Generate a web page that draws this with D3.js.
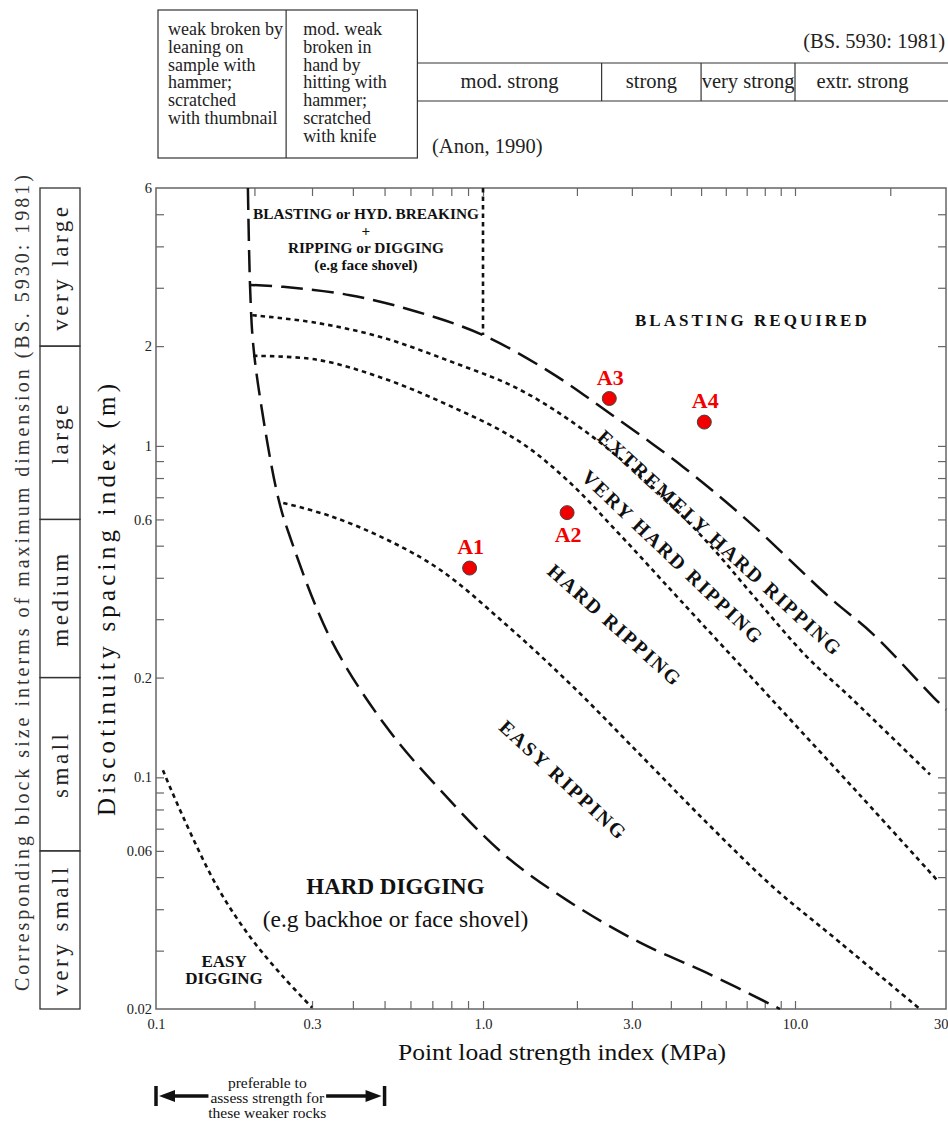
<!DOCTYPE html>
<html>
<head>
<meta charset="utf-8">
<script src="https://cdn.jsdelivr.net/npm/d3@7"></script>
<style>
  body { margin: 0; background: #fff; }
  svg { display: block; }
</style>
</head>
<body>
<div id="chart"></div>
<script>
/* CONSTANTS AND GLOBALS */
const width = 948, height = 1123;
const serif = "Liberation Serif, Times New Roman, serif";

/* DATA */
// x axis: point load strength index (MPa)
const xTicks = [0.2, 0.3, 0.4, 0.5, 0.6, 0.7, 0.8, 0.9, 1, 2, 3, 4, 5, 6, 7, 8, 9, 10, 20];
const xLabelValues = [0.1, 0.3, 1, 3, 10, 30];
const xLabelText = ["0.1", "0.3", "1.0", "3.0", "10.0", "30"];

// y axis: discontinuity spacing index (m)
const yTicks = [6, 5, 4, 3, 2, 1, 0.9, 0.8, 0.7, 0.6, 0.5, 0.4, 0.3, 0.2, 0.1,
                0.09, 0.08, 0.07, 0.06, 0.05, 0.04, 0.03, 0.02];
const yLabelValues = [6, 2, 1, 0.6, 0.2, 0.1, 0.06, 0.02];

// block size classes (BS 5930: 1981)
const blockNames = ["very large", "large", "medium", "small", "very small"];
const blockBounds = [6, 2, 0.6, 0.2, 0.06, 0.02];

// strength classes on top
const anonBounds = [0.1, 0.25, 0.63];
const weakText = ["weak broken by", "leaning on", "sample with", "hammer;", "scratched", "with thumbnail"];
const modWeakText = ["mod. weak", "broken in", "hand by", "hitting with", "hammer;", "scratched", "with knife"];
const bsNames = ["mod. strong", "strong", "very strong", "extr. strong"];
const bsBounds = [0.63, 2.4, 5, 10, 30];

// boundary curves [strength, spacing]
const diggingLine = [[0.191, 6], [0.194, 3.0], [0.198, 2.05], [0.208, 1.40], [0.236, 0.702],
  [0.257, 0.531], [0.343, 0.260], [0.501, 0.144], [0.739, 0.0917], [1.19, 0.0576],
  [1.94, 0.0415], [3.19, 0.0317], [5.22, 0.0257], [8.95, 0.02]];
const blastingLine = [[0.194, 3.06], [0.245, 3.02], [0.392, 2.85], [0.628, 2.54], [1.0, 2.16],
  [1.64, 1.67], [2.50, 1.27], [4.38, 0.864], [7.18, 0.586], [12.9, 0.348], [17.6, 0.271],
  [27.3, 0.175], [30, 0.160]];
const extremeLine = [[0.197, 2.48], [0.311, 2.35], [0.495, 2.12], [0.793, 1.80], [1.29, 1.49],
  [2.09, 1.12], [3.43, 0.763], [5.15, 0.521], [7.55, 0.343], [10.9, 0.231], [14.9, 0.175],
  [26.7, 0.102]];
const veryHardLine = [[0.198, 1.87], [0.311, 1.82], [0.495, 1.60], [0.793, 1.32], [1.29, 1.04],
  [1.86, 0.789], [2.75, 0.539], [4.28, 0.343], [8.32, 0.174], [16.0, 0.0886], [28.1, 0.049]];
const hardLine = [[0.245, 0.673], [0.340, 0.615], [0.495, 0.528], [0.739, 0.423], [1.19, 0.288],
  [1.94, 0.188], [3.19, 0.117], [5.22, 0.0729], [8.50, 0.0467], [13.9, 0.0317], [24.8, 0.02]];
const easyDigLine = [[0.105, 0.105], [0.121, 0.076], [0.154, 0.0467], [0.194, 0.033],
  [0.245, 0.025], [0.30, 0.0202]];
const boxLine = [[1, 6], [1, 2.16]];

// sites
const siteNames = ["A1", "A2", "A3", "A4"];
const siteStrength = [0.91, 1.86, 2.54, 5.12];
const siteSpacing = [0.428, 0.629, 1.39, 1.18];
const siteLabelBelow = [false, true, false, false];

// range where strength is better assessed another way
const weakRange = [0.1, 0.5];

/* SCALES */
const x = d3.scaleLog().domain([0.1, 1, 10, 30]).range([156, 483, 795, 946]);
const y = d3.scaleLog().domain([0.02, 6]).range([1009, 188]);

const svg = d3.select("#chart").append("svg")
  .attr("width", width)
  .attr("height", height)
  .attr("font-family", serif);

svg.append("rect").attr("width", width).attr("height", height).attr("fill", "#fff");

/* TOP STRENGTH TABLE */
const tbl = svg.append("g").attr("fill", "#222").attr("stroke-width", 1.2);

tbl.append("rect")
  .attr("x", x(anonBounds[0]) + 2).attr("y", 10)
  .attr("width", x(anonBounds[2]) - x(anonBounds[0]) - 2).attr("height", 148)
  .attr("fill", "none").attr("stroke", "#333");
tbl.append("line")
  .attr("x1", x(anonBounds[1])).attr("x2", x(anonBounds[1]))
  .attr("y1", 10).attr("y2", 158).attr("stroke", "#333");

tbl.selectAll(".weak").data(weakText).join("text")
  .attr("class", "weak")
  .attr("x", x(anonBounds[0]) + 12)
  .attr("y", (d, i) => 35 + i * 17.8)
  .attr("font-size", 18)
  .text(d => d);
tbl.selectAll(".modweak").data(modWeakText).join("text")
  .attr("class", "modweak")
  .attr("x", x(anonBounds[1]) + 17)
  .attr("y", (d, i) => 35 + i * 17.8)
  .attr("font-size", 18)
  .text(d => d);

[63, 101].forEach(yy => {
  tbl.append("line")
    .attr("x1", x(bsBounds[0])).attr("x2", width)
    .attr("y1", yy).attr("y2", yy).attr("stroke", "#333");
});
tbl.selectAll(".bsdiv").data(bsBounds.slice(1, -1)).join("line")
  .attr("class", "bsdiv")
  .attr("x1", d => x(d)).attr("x2", d => x(d))
  .attr("y1", 63).attr("y2", 101).attr("stroke", "#333");
tbl.selectAll(".bsname").data(bsNames).join("text")
  .attr("class", "bsname")
  .attr("x", (d, i) => (x(bsBounds[i]) + x(bsBounds[i + 1])) / 2 - (i === 3 ? 8 : 0))
  .attr("y", 88)
  .attr("text-anchor", "middle")
  .attr("font-size", 20.5)
  .text(d => d);

tbl.append("text").attr("x", 945).attr("y", 48).attr("text-anchor", "end")
  .attr("font-size", 20.5).text("(BS. 5930: 1981)");
tbl.append("text").attr("x", 432).attr("y", 153)
  .attr("font-size", 20.5).text("(Anon, 1990)");

/* LEFT BLOCK SIZE COLUMN */
const blk = svg.append("g");
blk.selectAll("rect").data(blockNames).join("rect")
  .attr("x", 40).attr("width", 40)
  .attr("y", (d, i) => y(blockBounds[i]))
  .attr("height", (d, i) => y(blockBounds[i + 1]) - y(blockBounds[i]))
  .attr("fill", "none").attr("stroke", "#333").attr("stroke-width", 1.3);
blk.selectAll("text").data(blockNames).join("text")
  .attr("transform", (d, i) => `translate(60,${(y(blockBounds[i]) + y(blockBounds[i + 1])) / 2}) rotate(-90)`)
  .attr("text-anchor", "middle")
  .attr("dy", "0.33em")
  .attr("font-size", 23)
  .attr("letter-spacing", 3.5)
  .attr("fill", "#222")
  .text(d => d);

svg.append("text")
  .attr("transform", "translate(22,583) rotate(-90)")
  .attr("text-anchor", "middle")
  .attr("dy", "0.33em")
  .attr("font-size", 20)
  .attr("textLength", 816)
  .attr("lengthAdjust", "spacing")
  .attr("fill", "#333")
  .text("Corresponding block size interms of maximum dimension (BS. 5930: 1981)");

/* AXES */
const tickColor = "#666";
function styleAxis(g) {
  g.select(".domain").remove();
  g.selectAll(".tick line").attr("stroke", tickColor).attr("stroke-width", 1.2);
}
svg.append("g").attr("transform", `translate(0,${y(0.02)})`)
  .call(d3.axisBottom(x).tickValues(xTicks).tickSize(-8).tickFormat(""))
  .call(styleAxis);
svg.append("g").attr("transform", `translate(0,${y(6)})`)
  .call(d3.axisTop(x).tickValues(xTicks).tickSize(-8).tickFormat(""))
  .call(styleAxis);
svg.append("g").attr("transform", `translate(${x(0.1)},0)`)
  .call(d3.axisLeft(y).tickValues(yTicks.slice(1, -1)).tickSize(-8).tickFormat(""))
  .call(styleAxis);
svg.append("g").attr("transform", `translate(${x(30)},0)`)
  .call(d3.axisRight(y).tickValues(yTicks.slice(1, -1)).tickSize(-8).tickFormat(""))
  .call(styleAxis);

// tick labels
const xLab = svg.append("g").attr("transform", `translate(0,${y(0.02)})`)
  .call(d3.axisBottom(x).tickValues(xLabelValues).tickSize(0).tickPadding(10)
    .tickFormat((d, i) => xLabelText[i]));
xLab.select(".domain").remove();
xLab.attr("font-family", serif);
xLab.selectAll("text").attr("font-size", 14.5).attr("fill", "#222");
xLab.selectAll("text").filter(d => d === 30).attr("text-anchor", "end").attr("dx", 2);

const yLab = svg.append("g").attr("transform", `translate(${x(0.1)},0)`)
  .call(d3.axisLeft(y).tickValues(yLabelValues).tickSize(0).tickPadding(4)
    .tickFormat(d => String(d)));
yLab.select(".domain").remove();
yLab.attr("font-family", serif);
yLab.selectAll("text").attr("font-size", 14.5).attr("fill", "#222");

// frame
svg.append("rect")
  .attr("x", x(0.1)).attr("y", y(6))
  .attr("width", x(30) - x(0.1)).attr("height", y(0.02) - y(6))
  .attr("fill", "none").attr("stroke", tickColor).attr("stroke-width", 1.5);

// axis titles
svg.append("text")
  .attr("x", 562).attr("y", 1060)
  .attr("text-anchor", "middle")
  .attr("font-size", 23.5)
  .attr("textLength", 328)
  .attr("lengthAdjust", "spacingAndGlyphs")
  .attr("fill", "#111")
  .text("Point load strength index (MPa)");
svg.append("text")
  .attr("transform", "translate(107,600) rotate(-90)")
  .attr("text-anchor", "middle")
  .attr("dy", "0.33em")
  .attr("font-size", 25)
  .attr("textLength", 432)
  .attr("lengthAdjust", "spacing")
  .attr("fill", "#111")
  .text("Discotinuity spacing index (m)");

/* BOUNDARY CURVES */
const lineGen = d3.line()
  .x(d => x(d[0]))
  .y(d => y(d[1]))
  .curve(d3.curveCatmullRom.alpha(0.5));

const dashed = [diggingLine, blastingLine];
const dotted = [extremeLine, veryHardLine, hardLine, easyDigLine, boxLine];

svg.append("g").selectAll("path").data(dashed).join("path")
  .attr("d", lineGen)
  .attr("fill", "none")
  .attr("stroke", "#111")
  .attr("stroke-width", 2.5)
  .attr("stroke-dasharray", "22,9");
svg.append("g").selectAll("path").data(dotted).join("path")
  .attr("d", lineGen)
  .attr("fill", "none")
  .attr("stroke", "#111")
  .attr("stroke-width", 2.6)
  .attr("stroke-dasharray", "4.5,4");

/* REGION LABELS */
const lab = svg.append("g").attr("fill", "#111").attr("font-weight", "bold");

const topBox = ["BLASTING or HYD. BREAKING", "+", "RIPPING or DIGGING", "(e.g face shovel)"];
lab.selectAll(".topbox").data(topBox).join("text")
  .attr("class", "topbox")
  .attr("x", x(0.4385))
  .attr("y", (d, i) => 219 + i * 17)
  .attr("text-anchor", "middle")
  .attr("font-size", 15.3)
  .attr("fill", "#111")
  .text(d => d);

lab.append("text")
  .attr("x", x(7.3)).attr("y", y(2.4) + 6)
  .attr("text-anchor", "middle")
  .attr("font-size", 17)
  .attr("letter-spacing", 3)
  .text("BLASTING REQUIRED");

const rotLabel = (text, sx, sy, angle) => lab.append("text")
  .attr("transform", `translate(${x(sx)},${y(sy)}) rotate(${angle})`)
  .attr("text-anchor", "middle")
  .attr("dy", "0.35em")
  .attr("font-size", 20)
  .attr("letter-spacing", 2)
  .text(text);
rotLabel("EXTREMELY HARD RIPPING", 5.75, 0.51, 42.5);
rotLabel("VERY HARD RIPPING", 4.06, 0.462, 43.6);
rotLabel("HARD RIPPING", 2.65, 0.288, 41.7);
rotLabel("EASY RIPPING", 1.81, 0.0982, 42.8);

lab.append("text")
  .attr("x", x(0.54)).attr("y", y(0.047) + 8)
  .attr("text-anchor", "middle")
  .attr("font-size", 23)
  .text("HARD DIGGING");
lab.append("text")
  .attr("x", x(0.54)).attr("y", y(0.0372) + 7)
  .attr("text-anchor", "middle")
  .attr("font-size", 23.5)
  .attr("font-weight", "normal")
  .text("(e.g backhoe or face shovel)");
lab.selectAll(".easydig").data(["EASY", "DIGGING"]).join("text")
  .attr("class", "easydig")
  .attr("x", x(0.1615))
  .attr("y", (d, i) => y(0.026) - 4 + i * 17)
  .attr("text-anchor", "middle")
  .attr("font-size", 17)
  .text(d => d);

/* SITES */
const sites = svg.append("g");
sites.selectAll("circle").data(siteNames).join("circle")
  .attr("cx", (d, i) => x(siteStrength[i]))
  .attr("cy", (d, i) => y(siteSpacing[i]))
  .attr("r", 7)
  .attr("fill", "#f20000")
  .attr("stroke", "#444")
  .attr("stroke-width", 1);
sites.selectAll("text").data(siteNames).join("text")
  .attr("x", (d, i) => x(siteStrength[i]) + 1)
  .attr("y", (d, i) => y(siteSpacing[i]) + (siteLabelBelow[i] ? 29 : -14))
  .attr("text-anchor", "middle")
  .attr("font-size", 22)
  .attr("font-weight", "bold")
  .attr("fill", "#f20000")
  .text(d => d);

/* WEAK ROCK ARROW */
const arr = svg.append("g").attr("fill", "#111");
const ax0 = x(weakRange[0]), ax1 = x(weakRange[1]), ay = 1096;
const amid = (ax0 + ax1) / 2 - 3;
const noteLines = ["preferable to", "assess strength for", "these weaker rocks"];
const notes = arr.selectAll("text").data(noteLines).join("text")
  .attr("x", amid)
  .attr("y", (d, i) => 1088 + i * 15)
  .attr("text-anchor", "middle")
  .attr("font-size", 15.5)
  .text(d => d);
const midW = notes.filter((d, i) => i === 1).node().getComputedTextLength();

arr.append("line").attr("x1", ax0).attr("x2", ax0).attr("y1", ay - 10).attr("y2", ay + 10)
  .attr("stroke", "#111").attr("stroke-width", 3.5);
arr.append("line").attr("x1", ax1).attr("x2", ax1).attr("y1", ay - 10).attr("y2", ay + 10)
  .attr("stroke", "#111").attr("stroke-width", 3.5);
arr.append("line").attr("x1", ax0 + 12).attr("x2", amid - midW / 2 - 2).attr("y1", ay).attr("y2", ay)
  .attr("stroke", "#111").attr("stroke-width", 3.5);
arr.append("line").attr("x1", amid + midW / 2 + 2).attr("x2", ax1 - 12).attr("y1", ay).attr("y2", ay)
  .attr("stroke", "#111").attr("stroke-width", 3.5);
arr.append("path").attr("d", `M${ax0 + 3},${ay} L${ax0 + 19},${ay - 6} L${ax0 + 19},${ay + 6} Z`);
arr.append("path").attr("d", `M${ax1 - 3},${ay} L${ax1 - 19},${ay - 6} L${ax1 - 19},${ay + 6} Z`);
</script>
</body>
</html>
